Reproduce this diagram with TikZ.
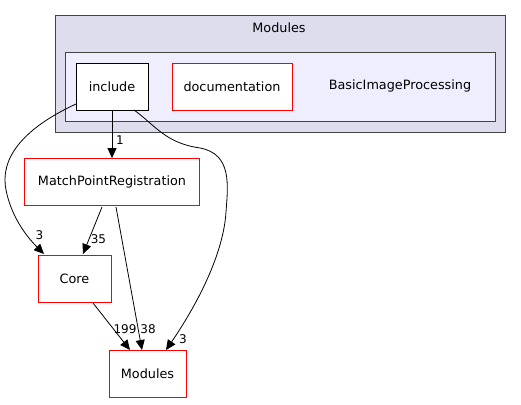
\documentclass[tikz,border=0pt]{standalone}
\usepackage{fontspec}
\setmainfont{DejaVu Sans}
\usetikzlibrary{arrows.meta}
\definecolor{clusterA}{HTML}{DDDDEE}
\definecolor{clusterB}{HTML}{EEEEFF}
\definecolor{bord}{HTML}{444444}
\tikzset{
  box/.style={draw=red, fill=white, line width=0.8pt, minimum height=47pt, inner sep=0pt, font=\fontsize{12.8}{14}\selectfont},
  plainbox/.style={draw=black, fill=white, line width=0.8pt, minimum height=47pt, inner sep=0pt, font=\fontsize{12.8}{14}\selectfont},
  dep/.style={draw=black, line width=0.8pt, -{Triangle[length=10pt,width=9pt]}},
  lbl/.style={font=\fontsize{12}{13}\selectfont, inner sep=1pt},
  clab/.style={font=\fontsize{12.8}{14}\selectfont, inner sep=0pt}
}
\begin{document}
\begin{tikzpicture}[x=1pt,y=-1pt]
\useasboundingbox (0,0) rectangle (521,404);
% clusters
\draw[bord, fill=clusterA, line width=1pt] (55,16) rectangle (505,132);
\node[clab] (modcl) at (279,28) {Modules};
\draw[bord, fill=clusterB, line width=1pt] (65,52) rectangle (495,121);
\node[clab] (bip) at (400,86) {BasicImageProcessing};
% nodes
\node[plainbox, minimum width=72pt] (inc) at (112,86.5) {include};
\node[box, minimum width=120pt] (doc) at (232,86.5) {documentation};
\node[box, minimum width=175pt] (mpr) at (112,182) {MatchPointRegistration};
\node[box, minimum width=73pt] (core) at (74.5,278.5) {Core};
\node[box, minimum width=77pt] (mods) at (147.5,374) {Modules};
% edges
\draw[dep] (inc.south) -- (mpr.north);
\node[lbl] (l1) at (120,140) {1};
\coordinate (a1) at (76,104);
\draw[dep] (a1) .. controls (20,130) and (0,160) .. (6,190) .. controls (12,220) and (30,240) .. (44,254);
\node[lbl] (l3a) at (39.5,235) {3};
\coordinate (b1) at (134,110);
\draw[dep] (b1) .. controls (155,125) and (165,143) .. (200,148) .. controls (232,154) and (228,185) .. (226,212) .. controls (223,260) and (190,315) .. (166,350);
\node[lbl] (l3b) at (183,339) {3};
\coordinate (c1) at (102,207);
\draw[dep] (c1) -- (83,254);
\node[lbl] (l35) at (98.5,239) {35};
\coordinate (d1) at (116,207);
\draw[dep] (d1) -- (142,350);
\node[lbl] (l38) at (148,329) {38};
\coordinate (e1) at (93,303);
\draw[dep] (e1) -- (130,350);
\node[lbl] (l199) at (125,329) {199};
\end{tikzpicture}
\end{document}
